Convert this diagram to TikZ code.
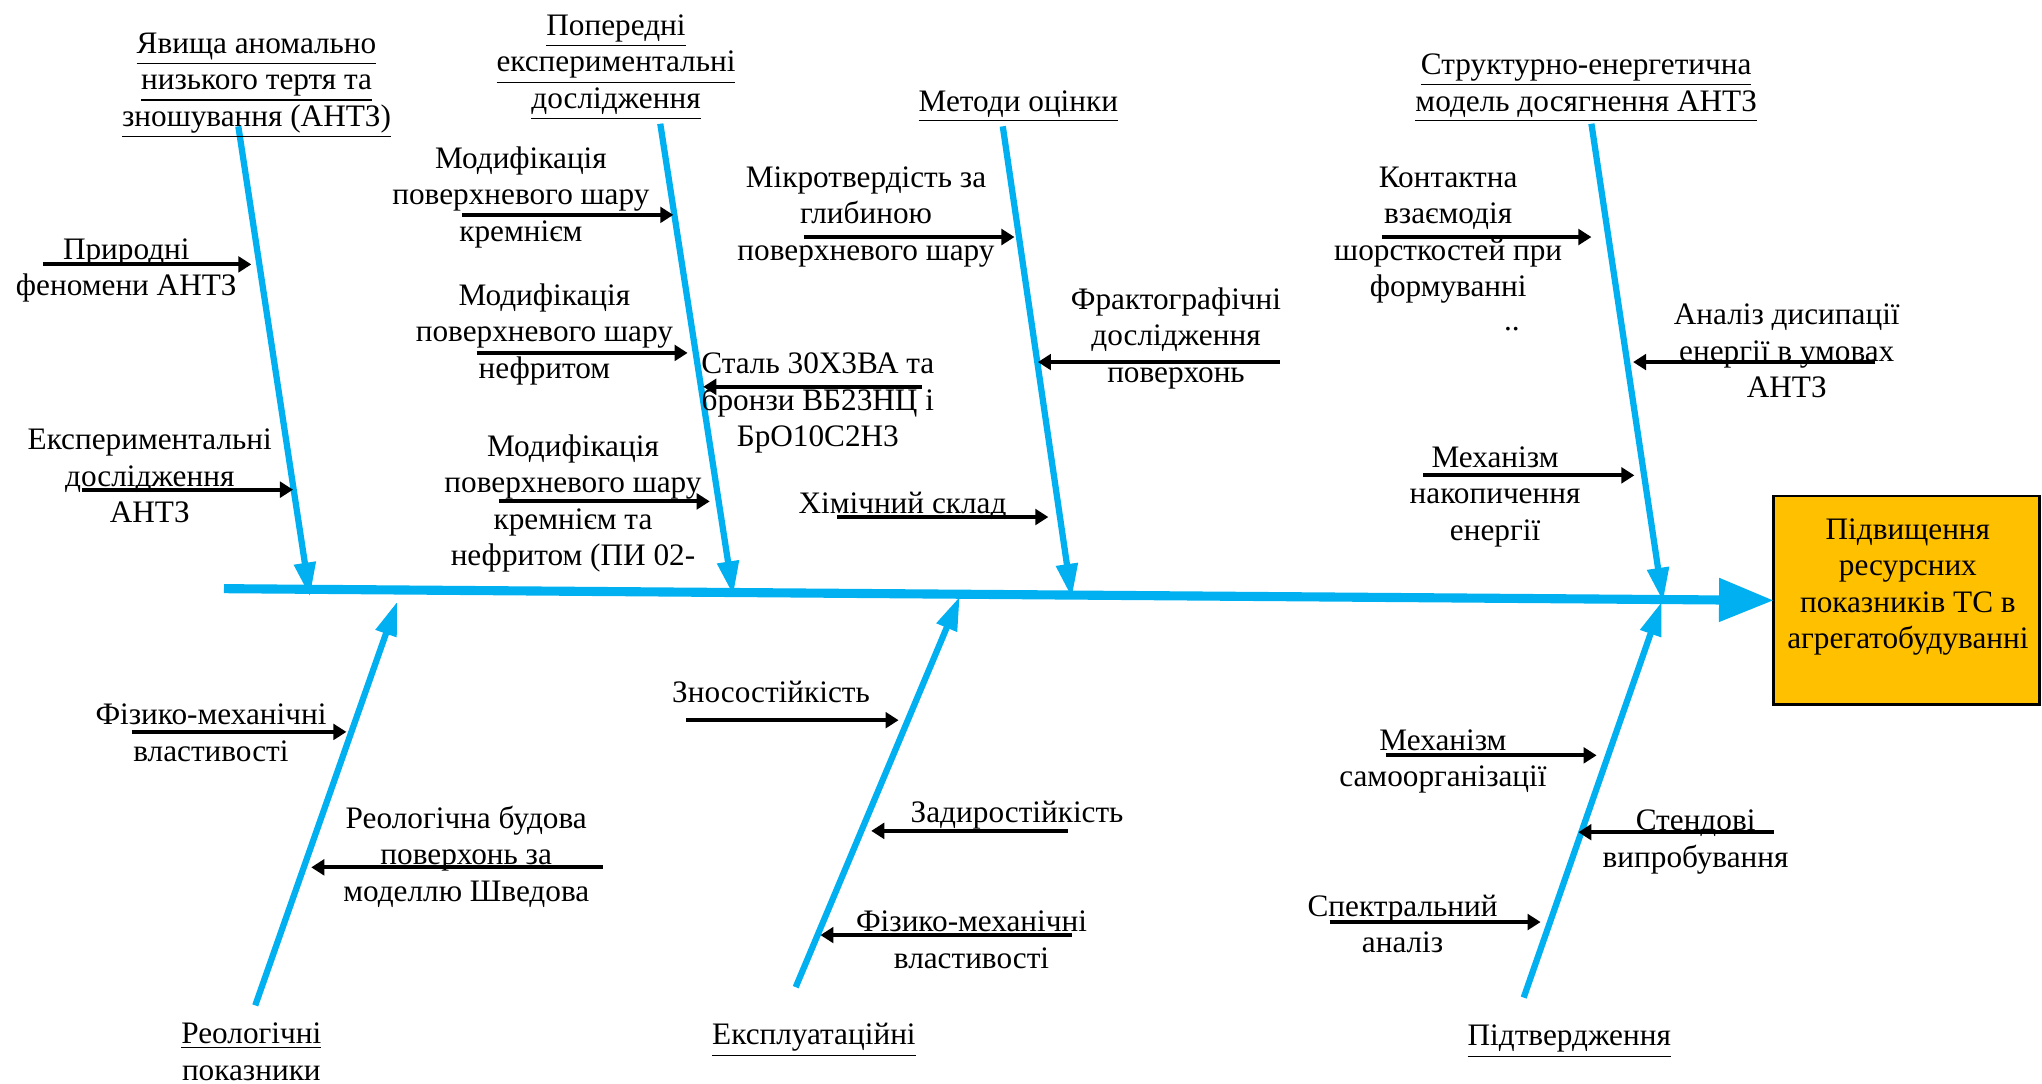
\documentclass[tikz,border=0pt]{standalone}
\usepackage{fontspec}
\setmainfont{Liberation Serif}
\usetikzlibrary{arrows.meta}
\definecolor{fishblue}{HTML}{00B0F0}
\definecolor{goalgold}{HTML}{FFC000}
\newcommand{\hdl}[1]{\underline{#1}}
\tikzset{
  spine/.style={line width=3.5pt,fishblue,-{Triangle[length=21pt,width=16pt]}},
  bone/.style={line width=2.4pt,fishblue,-{Triangle[length=13pt,width=8pt]}},
  causearrow/.style={line width=1.5pt,black,-{Triangle[length=5pt,width=6pt]}},
  lbl/.style={align=center,inner sep=0pt,yshift=-1.8pt},
}

\begin{document}
\begin{tikzpicture}[x=0.5pt,y=-0.5pt,font=\rmfamily\fontsize{12}{14}\selectfont]
  \useasboundingbox (0,0) rectangle (1568,832);
  % goal box and spine
  \node[draw,fill=goalgold,line width=1pt,inner sep=0pt,outer sep=0pt,
        minimum width=102pt,minimum height=80pt,anchor=west] (goal) at (1362,461) {};
  \node[lbl] (goaltext) at (1465,447) {Підвищення\\ресурсних\\показників ТС в\\агрегатобудуванні};
  \coordinate (tail) at (172,452);
  \draw[spine] (tail) -- (goal.west);

  % bones
  \foreach \n/\xa/\ya/\xb/\yb in {A/183/97/238/458, B/507/95/563/457,
      C/770/97/823/459, D/1222/95/1277/462, E/196/772/305/462,
      F/611/758/737/458, G/1170/766/1276/462} {
    \coordinate (\n0) at (\xa,\ya);
    \coordinate (\n1) at (\xb,\yb);
    \draw[bone] (\n0) -- (\n1);
  }

  % headings
  \node[lbl] (hA) at (197,62) {\hdl{Явища аномально}\\\hdl{низького тертя та}\\\hdl{зношування (АНТЗ)}};
  \node[lbl] (hB) at (473,48) {\hdl{Попередні}\\\hdl{експериментальні}\\\hdl{дослідження}};
  \node[lbl] (hC) at (782,78) {\hdl{Методи оцінки}};
  \node[lbl] (hD) at (1218,64) {\hdl{Структурно-енергетична}\\\hdl{модель досягнення АНТЗ}};
  \node[lbl] (hE) at (193,804) {\hdl{Реологічні}\\показники};
  \node[lbl] (hF) at (625,795) {\hdl{Експлуатаційні}};
  \node[lbl] (hG) at (1205,796) {\hdl{Підтвердження}};

  % causes
  \node[lbl] (a1) at (97,204) {Природні\\феномени АНТЗ};
  \node[lbl] (a2) at (115,362) {Експериментальні\\дослідження\\АНТЗ};
  \node[lbl] (b1) at (400,148) {Модифікація\\поверхневого шару\\кремнієм};
  \node[lbl] (b2) at (418,253) {Модифікація\\поверхневого шару\\нефритом};
  \node[lbl] (b3) at (440,383) {Модифікація\\поверхневого шару\\кремнієм та\\нефритом (ПИ 02-};
  \node[lbl] (b4) at (628,306) {Сталь 30Х3ВА та\\бронзи ВБ23НЦ і\\БрО10С2Н3};
  \node[lbl] (c1) at (665,163) {Мікротвердість за\\глибиною\\поверхневого шару};
  \node[lbl] (c2) at (903,256) {Фрактографічні\\дослідження\\поверхонь};
  \node[lbl] (c3) at (693,385) {Хімічний склад};
  \node[lbl] (d1) at (1112,177) {Контактна\\взаємодія\\шорсткостей при\\формуванні};
  \node[lbl] (d1x) at (1161,249) {..};
  \node[lbl] (d2) at (1372,266) {Аналіз дисипації\\енергії в умовах\\АНТЗ};
  \node[lbl] (d3) at (1148,378) {Механізм\\накопичення\\енергії};
  \node[lbl] (e1) at (162,559) {Фізико-механічні\\властивості};
  \node[lbl] (e2) at (358,654) {Реологічна будова\\поверхонь за\\моделлю Шведова};
  \node[lbl] (f1) at (592,528) {Зносостійкість};
  \node[lbl] (f2) at (781,622) {Задиростійкість};
  \node[lbl] (f3) at (746,718) {Фізико-механічні\\властивості};
  \node[lbl] (g1) at (1108,581) {Механізм\\самоорганізації};
  \node[lbl] (g2) at (1302,643) {Стендові\\випробування};
  \node[lbl] (g3) at (1077,706) {Спектральний\\аналіз};

  % cause arrows
  \foreach \n/\xa/\xb/\y in {a1/33/193/203, a2/63/225/376,
      b1/355/517/165, b2/366/528/271, b3/383/545/385, b4/708/540/297,
      c1/617/779/182, c2/983/797/278, c3/643/805/397,
      d1/1061/1222/182, d2/1440/1254/278, d3/1093/1255/365,
      e1/101/266/562, e2/463/239/666,
      f1/527/690/553, f2/820/669/638, f3/823/630/718,
      g1/1064/1226/580, g2/1362/1212/639, g3/1021/1183/708} {
    \coordinate (\n s) at (\xa,\y);
    \coordinate (\n e) at (\xb,\y);
    \draw[causearrow] (\n s) -- (\n e);
  }
\end{tikzpicture}
\end{document}
